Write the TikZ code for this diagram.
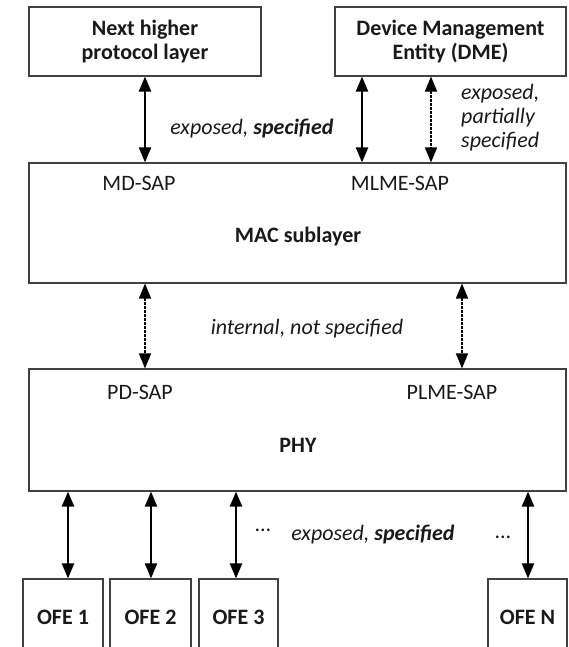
\documentclass[tikz,border=0pt]{standalone}
\usepackage{fontspec}
\setmainfont{Carlito}
\usetikzlibrary{arrows.meta}
\begin{document}
\begin{tikzpicture}[x=1pt,y=-1pt,
  txt/.style={inner sep=0pt, font=\fontsize{22}{24}\selectfont, text=black!90},
  box/.style={draw=black!75, line width=1.1pt, inner sep=0pt, align=center,
    font=\fontsize{22}{24}\selectfont\bfseries, text=black!90},
  solidarrow/.style={{Triangle[length=15pt,width=12pt]}-{Triangle[length=15pt,width=12pt]}, line width=2.2pt},
  dotarrow/.style={{Triangle[length=15pt,width=12pt]}-{Triangle[length=15pt,width=12pt]}, line width=1.7pt, dash pattern=on 2.5pt off 1.5pt}]
\useasboundingbox (0,0) rectangle (568,647);
\clip (0,0) rectangle (568,647);
% boxes
\node[box, minimum width=232pt, minimum height=69pt] (nh) at (145,41.5) {Next higher\\protocol layer};
\node[box, minimum width=231pt, minimum height=69pt] (dme) at (450.5,41.5) {Device Management\\Entity (DME)};
\node[box, minimum width=537pt, minimum height=120pt] (mac) at (297.5,223) {};
\node[box, minimum width=537pt, minimum height=122pt] (phy) at (297.5,430) {};
\node[box, minimum width=80pt, minimum height=76pt] (ofe1) at (63,617) {OFE 1};
\node[box, minimum width=81pt, minimum height=76pt] (ofe2) at (150.5,617) {OFE 2};
\node[box, minimum width=79pt, minimum height=76pt] (ofe3) at (238.5,617) {OFE 3};
\node[box, minimum width=79pt, minimum height=76pt] (ofen) at (527.5,617) {OFE N};
% inner labels
\node[txt] (mdsap) at (139,183) {MD-SAP};
\node[txt] (mlmesap) at (400,183) {MLME-SAP};
\node[txt, font=\fontsize{22}{24}\selectfont\bfseries] (macl) at (298,237) {MAC sublayer};
\node[txt] (pdsap) at (140,392) {PD-SAP};
\node[txt] (plmesap) at (452,392) {PLME-SAP};
\node[txt, font=\fontsize{22}{24}\selectfont\bfseries] (phyl) at (298,445) {PHY};
% connector x positions
\coordinate (xa) at (145,0);
\coordinate (xb) at (362,0);
\coordinate (xc) at (431,0);
\coordinate (xd) at (145,0);
\coordinate (xe) at (462,0);
\coordinate (x1) at (68,0);
\coordinate (x2) at (151,0);
\coordinate (x3) at (236,0);
\coordinate (xn) at (528,0);
% connectors
\draw[solidarrow] (xa |- nh.south) -- (xa |- mac.north);
\draw[solidarrow] (xb |- dme.south) -- (xb |- mac.north);
\draw[dotarrow] (xc |- dme.south) -- (xc |- mac.north);
\draw[dotarrow] (xd |- mac.south) -- (xd |- phy.north);
\draw[dotarrow] (xe |- mac.south) -- (xe |- phy.north);
\draw[solidarrow] (x1 |- phy.south) -- (x1 |- ofe1.north);
\draw[solidarrow] (x2 |- phy.south) -- (x2 |- ofe2.north);
\draw[solidarrow] (x3 |- phy.south) -- (x3 |- ofe3.north);
\draw[solidarrow] (xn |- phy.south) -- (xn |- ofen.north);
% connector labels
\node[txt] (l1) at (252,129) {\itshape exposed, \bfseries specified};
\node[txt, align=left, anchor=west] (l2) at (461,118) {\itshape exposed,\\\itshape partially\\\itshape specified};
\node[txt] (l3) at (307,329) {\itshape internal, not specified};
\node[txt] (l4) at (373,535) {\itshape exposed, \bfseries specified};
\node[txt] (d1) at (263,532) {\raisebox{4pt}{\ldots}};
\node[txt] (d2) at (503,537) {\ldots};
\end{tikzpicture}
\end{document}
